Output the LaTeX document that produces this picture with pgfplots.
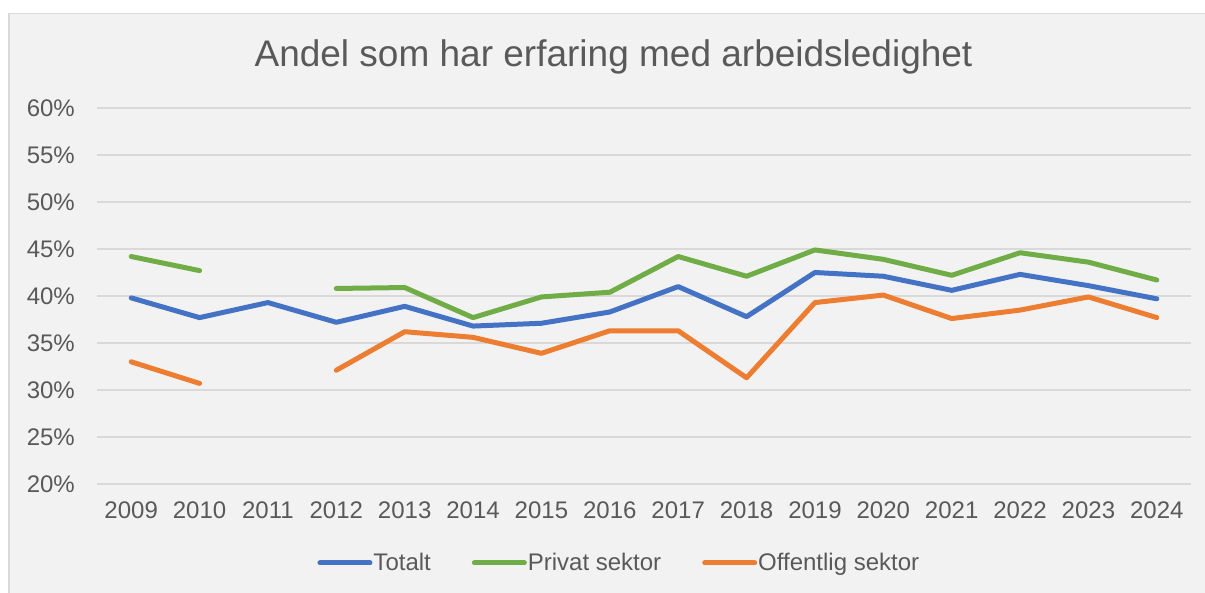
\documentclass[border=0pt]{standalone}
\usepackage{pgfplots}
\pgfplotsset{compat=1.18}
\usepackage{fontspec}
\setmainfont{Liberation Sans}
\definecolor{bgc}{HTML}{F2F2F2}
\definecolor{brd}{HTML}{D9D9D9}
\definecolor{gridc}{HTML}{D9D9D9}
\definecolor{txt}{HTML}{595959}
\definecolor{cblue}{HTML}{4472C4}
\definecolor{cgreen}{HTML}{70AD47}
\definecolor{corange}{HTML}{ED7D31}
\begin{document}
\begin{tikzpicture}[x=1pt,y=1pt]
\useasboundingbox (0,0) rectangle (1205,593);
\clip (0,0) rectangle (1205,593);
\fill[white] (0,0) rectangle (1205,593);
\filldraw[fill=bgc, draw=brd, line width=1.8pt] (9,-20) rectangle (1225,579.5);
\node[anchor=base, text=txt, font=\fontsize{37}{44}\selectfont] at (613.5,526) {Andel som har erfaring med arbeidsledighet};
\begin{axis}[
  at={(97pt,109pt)}, anchor=south west,
  scale only axis, width=1094pt, height=376pt,
  xmin=2008.5, xmax=2024.5, ymin=20, ymax=60,
  xtick={2009,2010,...,2024}, ytick={20,25,...,60},
  yticklabel={\pgfmathprintnumber{\tick}\%},
  /pgf/number format/assume math mode=true,
  /pgf/number format/1000 sep={},
  axis line style={draw=none},
  major tick length=0pt,
  ymajorgrids, major grid style={gridc, line width=1.5pt},
  tick label style={text=txt, font=\fontsize{24}{28}\selectfont},
  y tick label style={anchor=east, inner sep=0pt, xshift=-22pt},
  x tick label style={anchor=north, inner sep=0pt, yshift=-18pt},
  unbounded coords=jump,
  every axis plot/.append style={line width=5pt, line cap=round, line join=round},
  legend columns=3,
  legend style={at={(0.477,-0.21)}, anchor=center, draw=none, fill=none,
    font=\fontsize{24}{28}\selectfont, text=txt,
    nodes={inner sep=1pt},
    /tikz/every even column/.append style={column sep=40pt}},
  legend image code/.code={\draw[#1] (2.5pt,0pt) -- (52.5pt,0pt);},
]
\addplot[cblue] coordinates {
(2009,39.8) (2010,37.7) (2011,39.3) (2012,37.2) (2013,38.9) (2014,36.8)
(2015,37.1) (2016,38.3) (2017,41.0) (2018,37.8) (2019,42.5) (2020,42.1)
(2021,40.6) (2022,42.3) (2023,41.1) (2024,39.7)};
\addlegendentry{Totalt}
\addplot[cgreen] coordinates {
(2009,44.2) (2010,42.7) (2011,nan) (2012,40.8) (2013,40.9) (2014,37.7)
(2015,39.9) (2016,40.4) (2017,44.2) (2018,42.1) (2019,44.9) (2020,43.9)
(2021,42.2) (2022,44.6) (2023,43.6) (2024,41.7)};
\addlegendentry{Privat sektor}
\addplot[corange] coordinates {
(2009,33.0) (2010,30.7) (2011,nan) (2012,32.1) (2013,36.2) (2014,35.6)
(2015,33.9) (2016,36.3) (2017,36.3) (2018,31.3) (2019,39.3) (2020,40.1)
(2021,37.6) (2022,38.5) (2023,39.9) (2024,37.7)};
\addlegendentry{Offentlig sektor}
\end{axis}
\end{tikzpicture}
\end{document}
